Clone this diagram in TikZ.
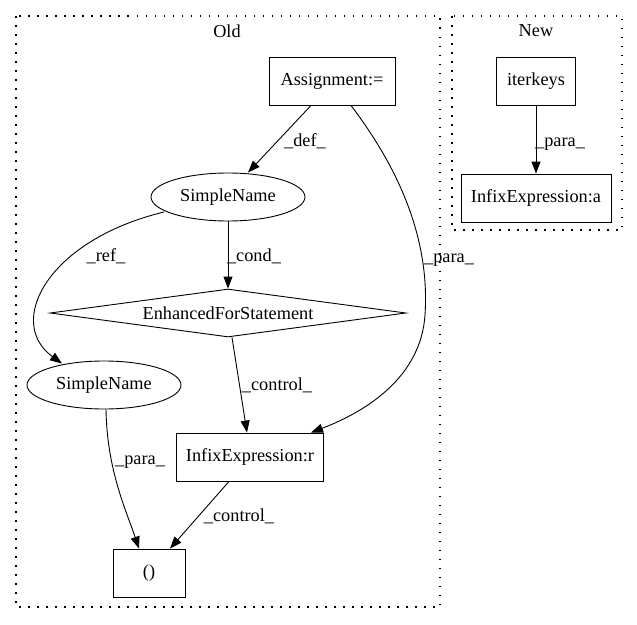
\documentclass[tikz,border=0pt]{standalone}
\usepackage{fontspec}
\setmainfont{Liberation Serif}
\usetikzlibrary{shapes.geometric,arrows.meta,calc}
\begin{document}
\begin{tikzpicture}[x=1pt,y=-1pt,
  every node/.style={font=\fontsize{18.3}{20}\selectfont, inner sep=0pt},
  boxnode/.style={draw, line width=0.9pt, rectangle, minimum height=48pt},
  ellnode/.style={draw, line width=0.9pt, ellipse, minimum width=154pt, minimum height=48pt},
  dianode/.style={draw, line width=0.9pt, diamond, aspect=7.4, minimum width=356pt, minimum height=48pt},
  cluster/.style={draw, line width=1.3pt, dash pattern=on 1.5pt off 7.5pt},
  edge/.style={draw, line width=0.9pt, -{Triangle[length=12pt,width=9pt]}},
  lbl/.style={font=\fontsize{18.3}{20}\selectfont},
  elbl/.style={font=\fontsize{18.3}{20}\selectfont, anchor=base}]
\useasboundingbox (0,0) rectangle (637,624);
\fill[white] (0,0) rectangle (637,624);
% clusters
\draw[cluster] (16,16) rectangle (440,607);
\node[lbl] (oldlbl) at (227,31) {Old};
\draw[cluster] (452,16) rectangle (622,230);
\node[lbl] (newlbl) at (536,31) {New};
% nodes
\node[boxnode, minimum width=126pt] (assign) at (332,81) {Assignment:=};
\node[ellnode] (sn1) at (228,197) {SimpleName};
\node[dianode] (efs) at (228,313) {EnhancedForStatement};
\node[ellnode] (sn2) at (104,385) {SimpleName};
\node[boxnode, minimum width=147pt] (infr) at (250,457) {InfixExpression:r};
\node[boxnode, minimum width=72pt] (paren) at (149,573) {()};
\node[boxnode, minimum width=79pt] (iterk) at (536,81) {iterkeys};
\node[boxnode, minimum width=150pt] (infa) at (536,198) {InfixExpression:a};
% edges
\draw[edge] ($(assign.south)+(-21,0)$) -- ($(sn1.north)+(20,0)$);
\node[elbl] (l1) at (305,146) {\_def\_};
\draw[edge] ($(assign.south)+(19,0)$) .. controls (400,170) and (430,240) .. (425,315)
  .. controls (421,375) and (370,410) .. ($(infr.north)+(61,0)$);
\node[elbl] (l2) at (449,262) {\_para\_};
\draw[edge] (sn1.south) -- (efs.north);
\node[elbl] (l3) at (254,261) {\_cond\_};
\draw[edge] ($(sn1.center)+(-64,15)$) .. controls (48,240) and (5,322) .. ($(sn2.north)+(-42,3)$);
\node[elbl] (l4) at (106,261) {\_ref\_};
\draw[edge] ($(efs.south)+(4,0)$) -- ($(infr.north)+(-3,0)$);
\node[elbl] (l5) at (277,390) {\_control\_};
\draw[edge] ($(sn2.south)+(2,0)$) .. controls (107,470) and (126,510) .. ($(paren.north)+(-10,0)$);
\node[elbl] (l6) at (140,464) {\_para\_};
\draw[edge] ($(infr.south)+(-21,0)$) -- ($(paren.north)+(21,0)$);
\node[elbl] (l7) at (239,521) {\_control\_};
\draw[edge] (iterk.south) -- (infa.north);
\node[elbl] (l8) at (560,146) {\_para\_};
\end{tikzpicture}
\end{document}
